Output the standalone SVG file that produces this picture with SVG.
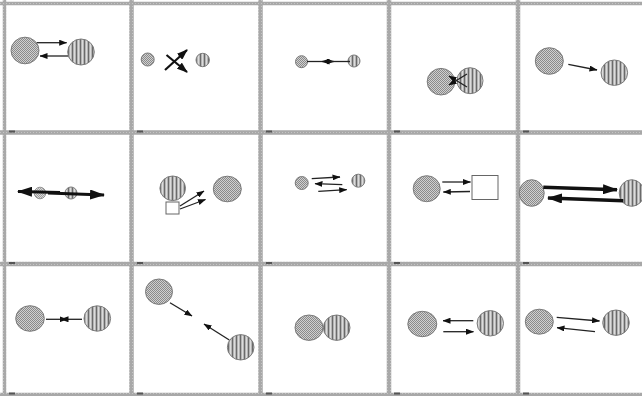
<svg xmlns="http://www.w3.org/2000/svg" width="642" height="396" viewBox="0 0 642 396">
<defs>
<pattern id="dots" width="2" height="2" patternUnits="userSpaceOnUse"><rect width="2" height="2" fill="#d0d0d0"/><rect width="1" height="1" fill="#8a8a8a"/><rect x="1" y="1" width="1" height="1" fill="#8a8a8a"/></pattern>
<pattern id="stripes" width="4" height="4" patternUnits="userSpaceOnUse"><rect width="4" height="4" fill="#b4b4b4"/><rect width="1" height="4" fill="#6a6a6a"/><rect x="2" width="1" height="4" fill="#dcdcdc"/></pattern>
<pattern id="frame" width="3" height="3" patternUnits="userSpaceOnUse"><rect width="3" height="3" fill="#a8a8a8"/><rect width="1" height="1" fill="#c4c4c4"/></pattern>
<marker id="ah" markerWidth="8" markerHeight="6" refX="7.5" refY="3" orient="auto" markerUnits="userSpaceOnUse"><path d="M0,0 L8,3 L0,6 z" fill="#111"/></marker>
<marker id="ahm" markerWidth="11" markerHeight="8" refX="10" refY="4" orient="auto" markerUnits="userSpaceOnUse"><path d="M0,0 L11,4 L0,8 z" fill="#111"/></marker>
<marker id="ahb" markerWidth="15" markerHeight="10" refX="14" refY="5" orient="auto" markerUnits="userSpaceOnUse"><path d="M0,0 L15,5 L0,10 z" fill="#111"/></marker>
</defs>
<style>
.d{fill:url(#dots);stroke:#7a7a7a;stroke-width:1}
.s{fill:url(#stripes);stroke:#7a7a7a;stroke-width:1}
.sq{fill:#fff;stroke:#666;stroke-width:1}
.a{stroke:#222;stroke-width:1.3;fill:none;marker-end:url(#ah)}
.am{stroke:#111;stroke-width:2.2;fill:none;marker-end:url(#ahm)}
.ab{stroke:#111;stroke-width:3.5;fill:none;marker-end:url(#ahb)}
.fr{stroke:url(#frame);fill:none}
.mk{fill:#555}
</style>
<rect width="642" height="396" fill="#fff"/>
<g id="frames">
<path class="fr" stroke-width="4.5" d="M131.5,0V396M260.5,0V396M389,0V396M518,0V396M0,132.5H642M0,264H642"/>
<path class="fr" stroke-width="3.5" d="M4.5,0V396M0,3.5H642M0,394.5H642"/>
<g class="mk">
<rect x="9" y="130.5" width="6" height="2"/><rect x="137" y="130.5" width="6" height="2"/><rect x="266" y="130.5" width="6" height="2"/><rect x="394" y="130.5" width="6" height="2"/><rect x="523" y="130.5" width="6" height="2"/>
<rect x="9" y="262" width="6" height="2"/><rect x="137" y="262" width="6" height="2"/><rect x="266" y="262" width="6" height="2"/><rect x="394" y="262" width="6" height="2"/><rect x="523" y="262" width="6" height="2"/>
<rect x="9" y="392.5" width="6" height="2"/><rect x="137" y="392.5" width="6" height="2"/><rect x="266" y="392.5" width="6" height="2"/><rect x="394" y="392.5" width="6" height="2"/><rect x="523" y="392.5" width="6" height="2"/>
</g>
</g>
<g id="p1">
<g id="p1-a"><ellipse class="d" cx="25" cy="50.5" rx="14" ry="13.3"/></g>
<g id="p1-b"><ellipse class="s" cx="81" cy="52" rx="13.3" ry="13"/></g>
</g>
<g id="p2">
<g id="p2-a"><circle class="d" cx="147.7" cy="59.5" r="6.5"/></g>
<g id="p2-b"><circle class="s" cx="202.7" cy="60" r="6.7"/></g>
</g>
<g id="p3">
<g id="p3-a"><circle class="d" cx="301.5" cy="61.7" r="6"/></g>
<g id="p3-b"><circle class="s" cx="354" cy="61" r="6"/></g>
</g>
<g id="p4">
<g id="p4-a"><ellipse class="d" cx="441" cy="81.7" rx="13.8" ry="13.3"/></g>
<g id="p4-b"><ellipse class="s" cx="470" cy="80.7" rx="13" ry="13"/></g>
</g>
<g id="p5">
<g id="p5-a"><ellipse class="d" cx="549.3" cy="61" rx="14" ry="13.3"/></g>
<g id="p5-b"><ellipse class="s" cx="614.3" cy="72.7" rx="13.3" ry="12.7"/></g>
</g>
<g id="p6">
<g id="p6-a"><circle class="d" cx="40" cy="193" r="5.8" opacity="0.8"/></g>
<g id="p6-b"><circle class="s" cx="71" cy="193" r="6"/></g>
</g>
<g id="p7">
<g id="p7-a"><ellipse class="s" cx="172.7" cy="188.3" rx="12.8" ry="12.3"/></g>
<g id="p7-b"><ellipse class="d" cx="227.3" cy="189" rx="14" ry="12.8"/></g>
<g id="p7-c"><rect class="sq" x="166" y="202" width="13" height="12"/></g>
</g>
<g id="p8">
<g id="p8-a"><circle class="d" cx="301.7" cy="183" r="6.5"/></g>
<g id="p8-b"><circle class="s" cx="358.3" cy="180.7" r="6.5"/></g>
</g>
<g id="p9">
<g id="p9-a"><ellipse class="d" cx="426.7" cy="188.7" rx="13.5" ry="13"/></g>
<g id="p9-b"><rect class="sq" x="472" y="175.5" width="26" height="24"/></g>
</g>
<g id="p10">
<g id="p10-a"><ellipse class="d" cx="531.7" cy="193" rx="12.5" ry="13.3"/></g>
<g id="p10-b"><ellipse class="s" cx="631.7" cy="193" rx="12.5" ry="13.3"/></g>
</g>
<g id="p11">
<g id="p11-a"><ellipse class="d" cx="30" cy="318.5" rx="14.3" ry="12.8"/></g>
<g id="p11-b"><ellipse class="s" cx="97.3" cy="318.5" rx="13.3" ry="12.7"/></g>
</g>
<g id="p12">
<g id="p12-a"><ellipse class="d" cx="159" cy="291.7" rx="13.5" ry="12.7"/></g>
<g id="p12-b"><ellipse class="s" cx="240.7" cy="347.3" rx="13.3" ry="12.7"/></g>
</g>
<g id="p13">
<g id="p13-a"><ellipse class="d" cx="309" cy="327.7" rx="14" ry="12.7"/></g>
<g id="p13-b"><ellipse class="s" cx="336.7" cy="327.7" rx="13.3" ry="12.7"/></g>
</g>
<g id="p14">
<g id="p14-a"><ellipse class="d" cx="422.3" cy="324" rx="14.5" ry="12.7"/></g>
<g id="p14-b"><ellipse class="s" cx="490.3" cy="323.3" rx="13.2" ry="12.7"/></g>
</g>
<g id="p15">
<g id="p15-a"><ellipse class="d" cx="539.3" cy="321.7" rx="14" ry="12.5"/></g>
<g id="p15-b"><ellipse class="s" cx="616" cy="322.7" rx="13.3" ry="12.7"/></g>
</g>
<g id="connectors">
<path class="a" d="M36.7,42.7H66.7"/>
<path class="a" d="M68,56H40"/>
<path class="am" d="M165,70L187,50"/>
<path class="am" d="M166.5,55L187,72"/>
<path class="a" d="M307,61.5H334"/>
<path class="a" d="M350,61.5H322"/>
<path class="a" d="M467,74L449,85"/>
<path class="a" d="M467,87L449,76"/>
<path class="a" d="M568.3,64.3L597,70"/>
<path class="ab" d="M60,192.5L18,191.5" style="stroke-width:3"/>
<path class="ab" d="M48,193L104,195" style="stroke-width:3"/>
<path class="a" d="M180,206L204,191"/>
<path class="a" d="M180,209L205.5,199.5"/>
<path class="a" d="M311.7,178.7L340,177"/>
<path class="a" d="M342.3,184.7L315,183.7"/>
<path class="a" d="M318.3,191.3L346.7,189.7"/>
<path class="a" d="M442.3,182H470.5"/>
<path class="a" d="M470,191.5L443.3,192"/>
<path class="ab" d="M543.3,187.3L617,189.7"/>
<path class="ab" d="M623.3,200.7L548,198"/>
<path class="a" d="M46,319.3H67"/>
<path class="a" d="M82,319.3H61"/>
<path class="a" d="M170,302.7L192,316"/>
<path class="a" d="M229.3,340L204,324"/>
<path class="a" d="M473.3,320.7H443"/>
<path class="a" d="M443.3,331.7H473.5"/>
<path class="a" d="M556.7,317.3L599.5,321"/>
<path class="a" d="M595,331.7L557,327.7"/>
</g>
</svg>
